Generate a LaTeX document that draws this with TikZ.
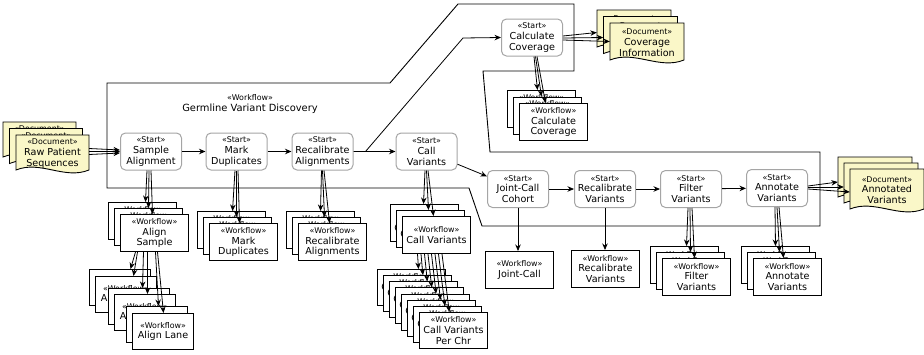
\documentclass[tikz,border=0pt]{standalone}
\usepackage{fontspec}
\setmainfont{DejaVu Sans}
\usetikzlibrary{arrows.meta}
\definecolor{startgray}{RGB}{165,165,165}
\definecolor{docfill}{RGB}{250,247,200}
\newcommand\stereo[1]{{\fontsize{7.9}{8.5}\selectfont «#1»}}
\newcommand\mainsize{\fontsize{9.6}{10.8}\selectfont}
\newcommand\titlesize{\fontsize{9.9}{11.5}\selectfont}

% document symbol with a wavy lower edge: name, left, top, width, height, label
\newcommand\docshape[6]{%
  \pgfmathsetmacro\dr{#2+#4}\pgfmathsetmacro\db{#3+#5-3}%
  \pgfmathsetmacro\dA{#2+2*#4/3}\pgfmathsetmacro\dB{#2+#4/3}%
  \pgfmathsetmacro\dlo{\db+10}\pgfmathsetmacro\dhi{\db-10}%
  \filldraw[docline] (#2,#3) -- (\dr,#3) -- (\dr,\db)
    .. controls (\dA,\dlo) and (\dB,\dhi) .. (#2,\db) -- cycle;
  \node[doctext, minimum width=#4pt, minimum height=#5pt] (#1) at (#2+#4/2,#3+#5/2-0.5) {#6};
}

\begin{document}
\begin{tikzpicture}[x=1pt,y=-1pt,
  arr/.style={-{Stealth[length=6.5pt,width=5.5pt]}, line width=0.8pt},
  frame/.style={draw, line width=0.9pt},
  startbox/.style={draw=startgray, line width=1pt, rounded corners=5pt, fill=white,
    minimum width=61pt, minimum height=37pt, inner sep=0pt, align=center, font=\mainsize},
  wfbox/.style={draw=black, line width=1pt, fill=white, minimum width=68pt,
    minimum height=37pt, inner sep=0pt, anchor=north west, align=center, font=\mainsize},
  lanebox/.style={wfbox, minimum width=61pt, minimum height=36pt},
  chrbox/.style={wfbox, minimum height=36pt},
  docline/.style={draw=black, line width=0.9pt, fill=docfill},
  doctext/.style={align=center, font=\mainsize, inner sep=0pt}]
\useasboundingbox (0,0) rectangle (924,354);

% enclosing workflow outline
\draw[frame] (107,83) -- (390,83) -- (458,4) -- (574,4) -- (574,71) -- (483,71)
  -- (490,152) -- (820,152) -- (820,226) -- (482,226) -- (469,188) -- (107,188) -- cycle;
\node[font=\titlesize, align=center] (title) at (250,104) {\stereo{Workflow}\\Germline Variant Discovery};

% documents
\docshape{rp1}{3}{122}{73}{38}{\stereo{Document}\\Raw Patient\\Sequences}
\docshape{rp2}{9.5}{128.5}{73}{38}{\stereo{Document}\\Raw Patient\\Sequences}
\docshape{rp3}{16}{135}{73}{38}{\stereo{Document}\\Raw Patient\\Sequences}
\docshape{cd1}{597}{10}{74}{40}{\stereo{Document}\\Coverage\\Information}
\docshape{cd2}{603.5}{16.5}{74}{40}{\stereo{Document}\\Coverage\\Information}
\docshape{cd3}{610}{23}{74}{40}{\stereo{Document}\\Coverage\\Information}
\docshape{ad1}{838}{157}{74}{43}{\stereo{Document}\\Annotated\\Variants}
\docshape{ad2}{844}{163}{74}{43}{\stereo{Document}\\Annotated\\Variants}
\docshape{ad3}{850}{169}{74}{43}{\stereo{Document}\\Annotated\\Variants}

% start steps
\node[startbox] (sa) at (151,151.5) {\stereo{Start}\\Sample\\Alignment};
\node[startbox] (md) at (236.5,151.5) {\stereo{Start}\\Mark\\Duplicates};
\node[startbox] (ra) at (322.5,151.5) {\stereo{Start}\\Recalibrate\\Alignments};
\node[startbox] (cv) at (426.5,151.5) {\stereo{Start}\\Call\\Variants};
\node[startbox] (cc) at (532,37.5) {\stereo{Start}\\Calculate\\Coverage};
\node[startbox] (jc) at (518,189) {\stereo{Start}\\Joint-Call\\Cohort};
\node[startbox] (rv) at (605,189) {\stereo{Start}\\Recalibrate\\Variants};
\node[startbox] (fv) at (691,189) {\stereo{Start}\\Filter\\Variants};
\node[startbox] (av) at (777,188) {\stereo{Start}\\Annotate\\Variants};

% sub-workflows
\foreach \n/\x/\y in {as1/108/202, as2/114/208, as3/120/214}
  \node[wfbox] (\n) at (\x,\y) {\stereo{Workflow}\\Align\\Sample};
\foreach \n/\x/\y in {md1/197/211, md2/203/217, md3/209/223}
  \node[wfbox] (\n) at (\x,\y) {\stereo{Workflow}\\Mark\\Duplicates};
\foreach \n/\x/\y in {ra1/286/211, ra2/292/217, ra3/298/223}
  \node[wfbox] (\n) at (\x,\y) {\stereo{Workflow}\\Recalibrate\\Alignments};
\foreach \n/\x/\y in {cw1/390/204, cw2/396/210, cw3/402/216}
  \node[wfbox] (\n) at (\x,\y) {\stereo{Workflow}\\Call Variants};
\foreach \n/\x/\y in {cc1/507/90, cc2/513/96.5, cc3/519/103}
  \node[wfbox] (\n) at (\x,\y) {\stereo{Workflow}\\Calculate\\Coverage};
\foreach \n/\x/\y in {fv1/650/246, fv2/656/252, fv3/662/258}
  \node[wfbox] (\n) at (\x,\y) {\stereo{Workflow}\\Filter\\Variants};
\foreach \n/\x/\y in {av1/741/246, av2/747/252, av3/753/258}
  \node[wfbox] (\n) at (\x,\y) {\stereo{Workflow}\\Annotate\\Variants};
\node[wfbox] (jw) at (485,251) {\stereo{Workflow}\\Joint-Call};
\node[wfbox] (rw) at (571,250) {\stereo{Workflow}\\Recalibrate\\Variants};
\foreach \n/\x/\y in {al1/89/269, al2/95/276, al3/108/288, al4/114/294, al5/126/306, al6/132/313}
  \node[lanebox] (\n) at (\x,\y) {\stereo{Workflow}\\Align Lane};
\foreach \i in {0,...,7}
  \node[chrbox] (pc\i) at (377+6*\i,269+6.14*\i) {\stereo{Workflow}\\Call Variants\\Per Chr};

% main flow
\draw[arr] (sa) -- (md);
\draw[arr] (md) -- (ra);
\draw[arr] (ra) -- (cv);
\coordinate (up) at (463,38);
\draw[arr] (ra.east) -- ++(12,0) -- (up) -- (cc.west);
\draw[arr] (cv) -- (jc);
\draw[arr] (jc) -- (rv);
\draw[arr] (rv) -- (fv);
\draw[arr] (fv) -- (av);

% documents in and out
\foreach \s/\e in {5/1.5, 2/0, -1/-1.5}
  \draw[arr] ([yshift=\s pt]rp3.east) -- ([yshift=\e pt]sa.west);
\foreach \k/\s/\e in {1/1.5/-3, 2/-0.5/-1.5, 3/-2.5/1}
  \draw[arr] ([yshift=\s pt]cc.east) -- ([yshift=\e pt]cd\k.west);
\foreach \k/\s/\e in {1/2/-4, 2/1/-3, 3/-1/-2}
  \draw[arr] ([yshift=\s pt]av.east) -- ([yshift=\e pt]ad\k.west);

% calls into sub-workflows
\foreach \k/\s/\e in {1/-4/3, 2/-2/0, 3/0/-2}
  \draw[arr] ([xshift=\s pt]sa.south) -- ([xshift=\e pt]as\k.north);
\foreach \k/\s/\e in {1/-1.5/1, 2/0/-1, 3/1.5/-4}
  \draw[arr] ([xshift=\s pt]md.south) -- ([xshift=\e pt]md\k.north);
\foreach \k/\s/\e in {1/-1/0, 2/0/-2, 3/1.5/-3}
  \draw[arr] ([xshift=\s pt]ra.south) -- ([xshift=\e pt]ra\k.north);
\foreach \k/\s/\e in {1/-1.5/-1, 2/0/-2, 3/1.5/-3}
  \draw[arr] ([xshift=\s pt]cv.south) -- ([xshift=\e pt]cw\k.north);
\foreach \k/\s/\e in {1/2/-4, 2/3.5/-6, 3/5/-8}
  \draw[arr] ([xshift=\s pt]cc.south) -- ([xshift=\e pt]cc\k.north);
\foreach \k/\s/\e in {1/-3/2, 2/-1/0, 3/1/-2}
  \draw[arr] ([xshift=\s pt]fv.south) -- ([xshift=\e pt]fv\k.north);
\foreach \k/\s/\e in {1/-2/0, 2/0/-2, 3/2/-4}
  \draw[arr] ([xshift=\s pt]av.south) -- ([xshift=\e pt]av\k.north);
\draw[arr] (jc.south) -- (jc.south |- jw.north);
\draw[arr] (rv.south) -- (rv.south |- rw.north);

% lanes and per-chromosome calls
\foreach \k/\s/\e in {1/-19/10.5, 2/-17/7.5, 3/-11/3.5, 4/-7/2.5, 5/1/1.5, 6/3/0.5}
  \draw[arr] ([xshift=\s pt]as3.south) -- ([xshift=\e pt]al\k.north);
\foreach \i in {0,...,7}
  \draw[arr] ([xshift={-19+3.5*\i}]cw3.south) -- ([xshift={7-1.6*\i}]pc\i.north);
\end{tikzpicture}
\end{document}
